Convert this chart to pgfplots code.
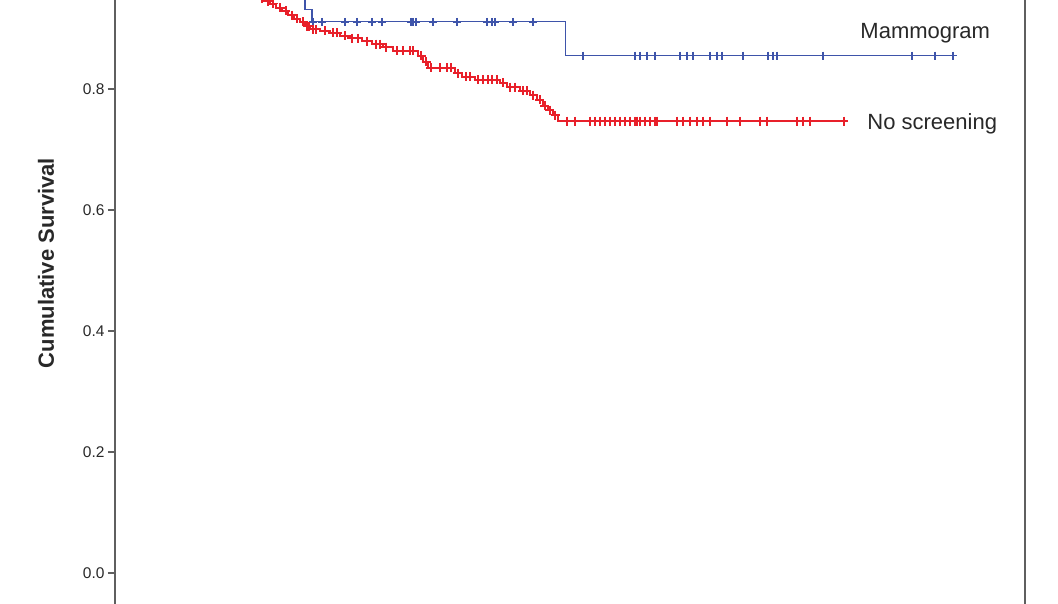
\documentclass[border=0pt]{standalone}
\usepackage{pgfplots}
\pgfplotsset{compat=1.18}
\usepackage{fontspec}
\setmainfont{Liberation Sans}
\definecolor{kmblue}{RGB}{62,84,170}
\definecolor{kmred}{RGB}{232,32,42}
\definecolor{framegray}{RGB}{95,95,95}
\definecolor{txt}{RGB}{40,40,40}
\begin{document}
\begin{tikzpicture}
\begin{axis}[
  at={(0pt,0pt)}, anchor=south west,
  scale only axis,
  width=910pt, height=683.65pt,
  xmin=-11.46, xmax=210.5,
  ymin=-0.08, ymax=1.05,
  xtick=\empty,
  ytick={0,0.2,0.4,0.6,0.8},
  ytick pos=left,
  tick align=outside,
  major tick length=7pt,
  axis line style={framegray, line width=1.6pt},
  every tick/.style={framegray, line width=1.6pt},
  /pgf/number format/assume math mode=true,
  yticklabel style={font=\fontsize{15.5}{15.5}\selectfont, text=txt,
    /pgf/number format/.cd, fixed, fixed zerofill, precision=1},
  ylabel={\bfseries Cumulative Survival},
  every axis y label/.style={at={(axis description cs:-0.0758,0.524)},
    rotate=90, anchor=center, font=\fontsize{22}{22}\selectfont, text=txt},
  clip=true,
]
% Mammogram survival step function
\addplot[kmblue, line width=1.2pt, const plot, mark=none] coordinates {
 (0,1.0) (34.9,0.932) (36.6,0.911) (98.5,0.855) (192.9,0.855)
};
% No screening survival step function
\addplot[kmred, line width=1.8pt, const plot, mark=none] coordinates {
 (0,1.0) (14.1,0.993) (16.1,0.983) (18.0,0.974) (20.0,0.964) (22.0,0.955)
 (23.4,0.950) (24.9,0.945) (26.3,0.941) (27.8,0.934) (29.3,0.929) (30.7,0.922)
 (32.2,0.916) (33.7,0.911) (34.9,0.904) (36.1,0.899) (38.5,0.896) (41.0,0.893)
 (43.4,0.888) (45.9,0.884) (48.8,0.879) (51.2,0.874) (53.9,0.869) (56.3,0.863)
 (62.4,0.855) (63.7,0.845) (64.9,0.835) (71.5,0.826) (73.2,0.820) (76.3,0.815)
 (82.4,0.810) (84.1,0.803) (87.3,0.797) (89.8,0.790) (91.5,0.782) (92.9,0.772)
 (94.1,0.765) (95.4,0.757) (96.6,0.747) (166.6,0.747)
};
% Mammogram censored
\addplot[only marks, mark=+, mark size=4pt, kmblue, mark options={line width=1.5pt}] coordinates {
 (36.8,0.911) (39.0,0.911) (44.6,0.911) (47.6,0.911) (51.2,0.911) (53.7,0.911)
 (60.7,0.911) (61.2,0.911) (62.0,0.911) (66.1,0.911) (72.0,0.911) (79.3,0.911)
 (80.5,0.911) (81.2,0.911) (85.6,0.911) (90.5,0.911)
 (102.7,0.855) (115.4,0.855) (116.6,0.855) (118.3,0.855) (120.2,0.855) (126.3,0.855)
 (128.0,0.855) (129.5,0.855) (133.7,0.855) (135.4,0.855) (136.6,0.855) (141.7,0.855)
 (147.8,0.855) (149.0,0.855) (150.0,0.855) (161.2,0.855) (182.9,0.855) (188.5,0.855)
 (192.9,0.855)
};
% No screening censored
\addplot[only marks, mark=+, mark size=4.5pt, kmred, mark options={line width=1.6pt}] coordinates {
 (20.2,0.964) (22.7,0.955) (24.4,0.950) (25.9,0.945) (27.1,0.941) (28.8,0.934)
 (30.2,0.929) (31.7,0.922) (32.9,0.916) (34.4,0.911) (35.4,0.904) (35.9,0.904)
 (36.8,0.899) (37.6,0.899) (39.8,0.896) (41.7,0.893) (42.7,0.893) (44.6,0.888)
 (46.3,0.884) (47.8,0.884) (50.0,0.879) (52.2,0.874) (53.2,0.874) (54.6,0.869)
 (57.3,0.863) (58.8,0.863) (60.5,0.863) (61.2,0.863) (63.2,0.855) (64.4,0.845)
 (65.6,0.835) (67.8,0.835) (69.5,0.835) (70.5,0.835) (72.2,0.826) (74.1,0.820)
 (75.1,0.820) (77.1,0.815) (78.3,0.815) (79.5,0.815) (80.5,0.815) (81.7,0.815)
 (83.2,0.810) (84.9,0.803) (86.1,0.803) (88.0,0.797) (89.0,0.797) (90.5,0.790)
 (92.2,0.782) (93.4,0.772) (94.6,0.765) (95.9,0.757)
 (98.8,0.747) (100.7,0.747) (104.4,0.747) (105.6,0.747) (106.8,0.747) (108.0,0.747)
 (109.3,0.747) (110.5,0.747) (111.7,0.747) (112.9,0.747) (114.1,0.747) (115.4,0.747)
 (115.9,0.747) (116.6,0.747) (117.8,0.747) (119.0,0.747) (120.2,0.747) (120.7,0.747)
 (125.6,0.747) (127.1,0.747) (128.8,0.747) (130.5,0.747) (131.9,0.747) (133.7,0.747)
 (137.8,0.747) (141.0,0.747) (145.9,0.747) (147.6,0.747) (154.9,0.747) (156.3,0.747)
 (158.0,0.747) (166.3,0.747)
};
\node[anchor=west, text=txt, font=\fontsize{22}{22}\selectfont] at (axis cs:169.5,0.8926) {Mammogram};
\node[anchor=west, text=txt, font=\fontsize{22}{22}\selectfont] at (axis cs:171.2,0.742) {No screening};
\end{axis}
\pgfresetboundingbox
\path[use as bounding box] (-115pt,17.4pt) rectangle (943pt,621.4pt);
\end{tikzpicture}
\end{document}
